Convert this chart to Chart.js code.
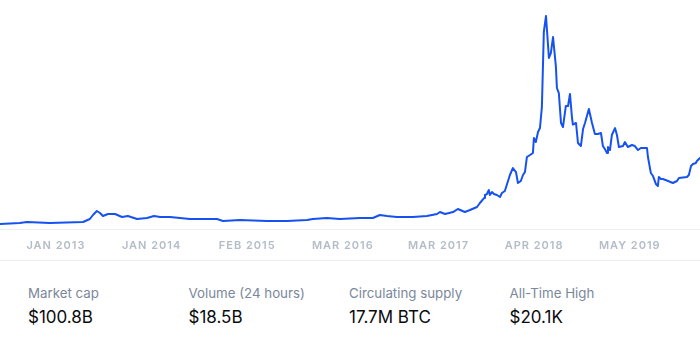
<!DOCTYPE html>
<html>
<head>
<meta charset="utf-8">
<script src="https://cdn.jsdelivr.net/npm/chart.js@4.4.0/dist/chart.umd.min.js"></script>
<style>
  html, body { margin: 0; padding: 0; background: #ffffff; }
  body { width: 700px; height: 358px; position: relative; overflow: hidden; font-family: Inter, "Noto Sans", sans-serif; }
  #chartBox { position: absolute; left: 0; top: 0; width: 700px; height: 260px; }
  #sep { position: absolute; left: 0; top: 260px; width: 700px; height: 1px; background: #eceff2; }
  .lbl { position: absolute; font-size: 13.3px; line-height: 14px; color: #7b889b; white-space: nowrap; }
  .val { position: absolute; font-size: 17px; line-height: 17px; color: #0a0b0d; white-space: nowrap; }
</style>
</head>
<body>
<div id="chartBox"><canvas id="c"></canvas></div>
<div id="sep"></div>
<div id="stats"></div>
<script>
// Days relative to the "JAN 2013" tick; ticks are evenly spaced every 395 days
const days = [
  -231,-149,-120,-25,112,140,153,169,182,194,215,244,273,297,335,376,405,430,471,512,
  553,595,665,690,760,871,954,1037,1061,1119,1173,1256,1309,1338,1367,1408,1474,1532,1574,1586,
  1607,1640,1660,1689,1710,1739,1751,1768,1772,1780,1788,1792,1801,1809,1821,1834,1842,1854,1875,1887,
  1900,1908,1920,1929,1937,1945,1958,1970,1974,1982,1991,1999,2007,2015,2024,2036,2044,2053,2065,2069,
  2077,2086,2094,2106,2115,2123,2131,2135,2148,2156,2168,2177,2185,2201,2214,2226,2238,2251,2259,2267,
  2276,2280,2288,2296,2309,2317,2325,2342,2350,2362,2379,2391,2404,2416,2441,2445,2457,2466,2478,2486,
  2490,2499,2507,2528,2548,2565,2573,2606,2614,2623,2631,2643,2647,2660
];
// Market cap, billions USD
const marketCapB = [
  3.4,5.0,6.5,5.0,6.5,11.2,17.4,23.6,20.5,15.8,18.9,18.9,14.3,15.8,11.2,12.7,15.8,14.3,14.3,12.7,
  11.2,11.2,11.2,8.1,9.6,8.1,8.1,9.6,11.2,12.7,11.2,12.7,12.7,17.4,15.8,14.3,14.3,15.8,18.9,22.0,
  18.9,22.0,26.7,22.0,25.1,29.8,36.0,43.7,48.4,49.9,56.1,48.4,53.0,49.9,48.4,45.3,51.5,54.6,79.4,90.2,
  84.0,67.0,70.1,79.4,84.0,107.3,110.4,113.5,136.7,130.5,146.0,152.2,184.8,301.1,325.9,260.8,268.5,293.3,246.8,214.3,
  206.5,160.0,153.8,186.4,186.4,205.0,169.3,157.7,160.0,129.0,124.3,150.7,160.0,181.7,160.0,142.9,142.9,144.5,124.3,119.7,
  113.5,122.8,118.1,141.4,152.2,141.4,122.8,124.3,130.5,122.8,125.9,124.3,118.1,121.2,121.2,107.3,82.5,77.8,65.4,62.2,
  76.3,73.2,73.2,70.1,67.0,70.1,74.7,76.3,79.4,93.3,96.4,98.0,101.1,105.7
];
const tickDays = [0, 395, 790, 1185, 1580, 1975, 2370];
const tickLabels = ['JAN 2013','JAN 2014','FEB 2015','MAR 2016','MAR 2017','APR 2018','MAY 2019'];

const statLabels = ['Market cap','Volume (24 hours)','Circulating supply','All-Time High'];
const statValues = ['$100.8B','$18.5B','17.7M BTC','$20.1K'];

// stats row
const stats = document.getElementById('stats');
statLabels.forEach((t, i) => {
  const x = 28 + i * 160.5;
  const l = document.createElement('div');
  l.className = 'lbl'; l.textContent = t;
  l.style.left = x + 'px'; l.style.top = '286px';
  stats.appendChild(l);
  const v = document.createElement('div');
  v.className = 'val'; v.textContent = statValues[i];
  v.style.left = x + 'px'; v.style.top = '309px';
  stats.appendChild(v);
});

const points = days.map((d, i) => ({ x: d, y: marketCapB[i] }));

const letterSpacingPlugin = {
  id: 'ls',
  beforeDraw(chart) { chart.ctx.letterSpacing = '1px'; }
};

new Chart(document.getElementById('c'), {
  type: 'line',
  data: {
    datasets: [{
      data: points,
      borderColor: '#1652f0',
      borderWidth: 2,
      borderJoinStyle: 'round',
      borderCapStyle: 'round',
      pointRadius: 0,
      tension: 0,
      fill: false
    }]
  },
  options: {
    responsive: true,
    maintainAspectRatio: false,
    animation: false,
    layout: { padding: 0 },
    plugins: { legend: { display: false }, tooltip: { enabled: false } },
    scales: {
      x: {
        type: 'linear',
        min: -231,
        max: 2660,
        grid: { display: false, drawTicks: false },
        border: { display: true, color: '#eceff2', width: 1 },
        afterBuildTicks(scale) { scale.ticks = tickDays.map(v => ({ value: v })); },
        afterFit(scale) { scale.height = 31; },
        ticks: {
          autoSkip: false,
          maxRotation: 0,
          padding: 10,
          color: '#b4bcc7',
          font: { family: 'Inter', size: 11, weight: '600' },
          callback(value) {
            const i = tickDays.indexOf(value);
            return i >= 0 ? tickLabels[i] : '';
          }
        }
      },
      y: {
        display: false,
        min: -4.3,
        max: 350.7
      }
    }
  },
  plugins: [letterSpacingPlugin]
});
</script>
</body>
</html>
